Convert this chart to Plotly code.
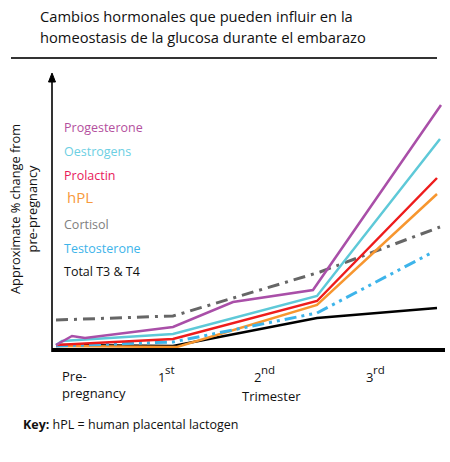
import plotly.graph_objects as go

# x: time position from the start of the axis, y: approximate change (arbitrary units)
progesterone_x = [4, 20, 33, 121, 181, 261, 389]
progesterone_y = [5, 14, 12, 23, 48, 60, 245]

oestrogens_x = [4, 10, 121, 265, 388]
oestrogens_y = [5, 9, 16, 54, 211]

prolactin_x = [4, 121, 265, 385]
prolactin_y = [5, 11, 49, 172]

hpl_x = [4, 125, 265, 385]
hpl_y = [4, 3, 45, 156]

cortisol_x = [4, 121, 268, 388]
cortisol_y = [30, 34, 78, 123]

testosterone_x = [4, 121, 265, 381]
testosterone_y = [4, 8, 37, 98]

t3t4_x = [4, 121, 265, 385]
t3t4_y = [5, 4, 32, 42]

labels = ["Progesterone", "Oestrogens", "Prolactin", "hPL",
          "Cortisol", "Testosterone", "Total T3 &amp; T4"]
label_colors = ["#b4509e", "#6ccfe3", "#e8195a", "#f79a3c",
                "#808080", "#3db4ea", "#111111"]

trimester_nums = ["1", "2", "3"]
trimester_suffix = ["st", "nd", "rd"]

W, H = 450, 462
FONT = "Open Sans"

fig = go.Figure()

series = [
    (cortisol_x, cortisol_y, "#666666", 3, "12px,6px,3px,6px"),
    (t3t4_x, t3t4_y, "#000000", 2.5, "solid"),
    (hpl_x, hpl_y, "#f7962f", 2.5, "solid"),
    (testosterone_x, testosterone_y, "#3db4ea", 3, "12px,5px,3px,5px,3px,5px"),
    (prolactin_x, prolactin_y, "#ee1c1c", 2.5, "solid"),
    (oestrogens_x, oestrogens_y, "#5ec9d8", 2.5, "solid"),
    (progesterone_x, progesterone_y, "#a94fa8", 2.5, "solid"),
]
for xs, ys, col, w, dash in series:
    fig.add_trace(go.Scatter(x=xs, y=ys, mode="lines",
                             line=dict(color=col, width=w, dash=dash),
                             showlegend=False, hoverinfo="skip"))


def px_x(p):
    return p / W


def px_y(p):
    return 1 - p / H


anns = []
# title
for i, t in enumerate(["Cambios hormonales que pueden influir en la",
                       "homeostasis de la glucosa durante el embarazo"]):
    anns.append(dict(text=t, x=px_x(38), y=px_y(16 + i * 21), xanchor="left",
                     yanchor="middle", font=dict(size=14.7, color="#111111")))

# series labels
label_y = [128, 151, 175, 197, 224, 248, 271]
for lab, col, yy in zip(labels, label_colors, label_y):
    size = 15 if lab == "hPL" else 12.5
    xx = 65 if lab == "hPL" else 62
    anns.append(dict(text=lab, x=px_x(xx), y=px_y(yy), xanchor="left",
                     yanchor="middle", font=dict(size=size, color=col)))

# y axis title
anns.append(dict(text="Approximate % change from<br>pre-pregnancy", x=px_x(24),
                 y=px_y(209), textangle=-90, xanchor="center", yanchor="middle",
                 font=dict(size=12.8, color="#111111"), align="center"))

# x axis texts
anns.append(dict(text="Pre-<br>pregnancy", x=px_x(60), y=px_y(384), xanchor="left",
                 yanchor="middle", align="left", font=dict(size=13, color="#111111")))
for num, suf, xx in zip(trimester_nums, trimester_suffix, [156, 252, 364]):
    anns.append(dict(text=num, x=px_x(xx), y=px_y(377), xanchor="left",
                     yanchor="middle", font=dict(size=13, color="#111111")))
    anns.append(dict(text=suf, x=px_x(xx + 7), y=px_y(369), xanchor="left",
                     yanchor="middle", font=dict(size=11.5, color="#111111")))
anns.append(dict(text="Trimester", x=px_x(271), y=px_y(396), xanchor="center",
                 yanchor="middle", font=dict(size=13, color="#111111")))
anns.append(dict(text="<b>Key:</b> hPL = human placental lactogen", x=px_x(21),
                 y=px_y(424), xanchor="left", yanchor="middle",
                 font=dict(size=12.5, color="#111111")))

for a in anns:
    a.update(xref="paper", yref="paper", showarrow=False)

ax_x = px_x(52)
arrow_path = "M {:.4f},{:.4f} L {:.4f},{:.4f} L {:.4f},{:.4f} Z".format(
    px_x(48.5), px_y(82), ax_x, px_y(73), px_x(55.5), px_y(82))

fig.update_layout(
    width=W, height=H,
    margin=dict(l=0, r=0, t=0, b=0),
    paper_bgcolor="white", plot_bgcolor="white",
    font=dict(family=FONT, color="#111111"),
    xaxis=dict(range=[-52, 398], visible=False, fixedrange=True),
    yaxis=dict(range=[-112, 350], visible=False, fixedrange=True),
    annotations=anns,
    shapes=[
        # vertical axis with arrow head
        dict(type="line", xref="paper", yref="paper", x0=ax_x, x1=ax_x,
             y0=px_y(352), y1=px_y(78), line=dict(color="#000000", width=1.6)),
        dict(type="path", xref="paper", yref="paper", path=arrow_path,
             fillcolor="#000000", line=dict(color="#000000", width=1)),
        # baseline
        dict(type="line", xref="x", yref="y", x0=0, x1=393, y0=0, y1=0,
             line=dict(color="#000000", width=4)),
        # rule under the title
        dict(type="line", xref="paper", yref="paper", x0=px_x(11), x1=px_x(437),
             y0=px_y(58), y1=px_y(58), line=dict(color="#333333", width=2)),
    ],
)

no_margin = "document.body.style.margin = '0'; document.body.style.overflow = 'hidden';"
fig.write_html("out.html", post_script=[no_margin], config={"displayModeBar": False})
